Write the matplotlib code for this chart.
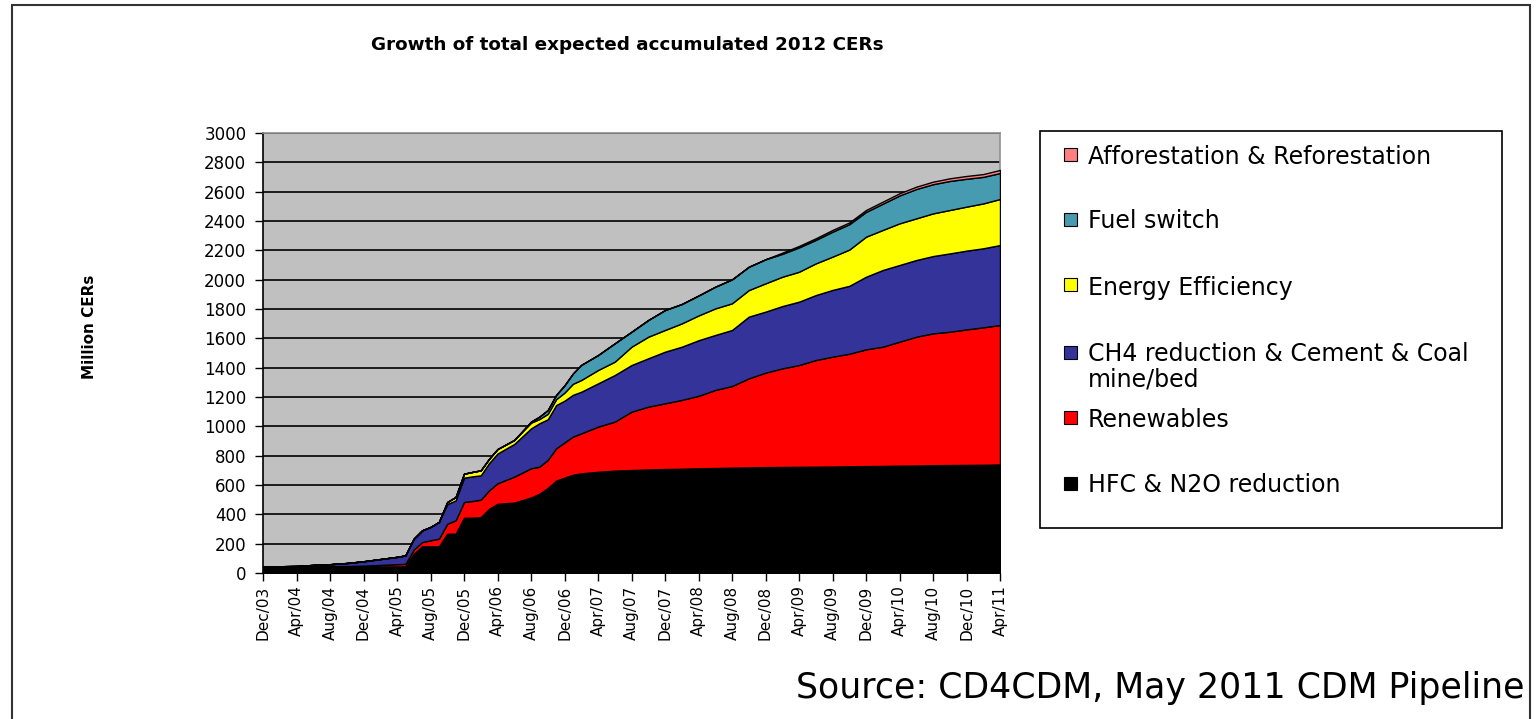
import matplotlib
matplotlib.use("Agg")
import matplotlib.pyplot as plt
from matplotlib.patches import Rectangle
import numpy as np

# month offsets from Dec/03
months = [0, 2, 4, 6, 8, 10, 12, 14, 16, 17, 18, 19, 20, 21, 22, 23, 24, 25, 26, 27, 28,
          30, 32, 33, 34, 35, 36, 37, 38, 40, 42, 44, 46, 48, 50, 52, 54, 56, 58, 60,
          62, 64, 66, 68, 70, 72, 74, 76, 78, 80, 82, 84, 86, 88]

hfc = [45, 45, 45, 45, 45, 45, 45, 45, 45, 45, 132, 182, 182, 182, 268, 268, 377, 377, 381, 438, 472,
       480, 515, 540, 580, 630, 650, 670, 680, 690, 698, 702, 706, 709, 711, 714, 716, 718, 720, 722,
       723, 724, 725, 726, 728, 729, 730, 732, 733, 735, 736, 737, 738, 740]
renew = [0, 0, 0, 1, 1, 2, 5, 10, 15, 17, 28, 29, 41, 52, 68, 91, 107, 114, 119, 126, 140,
         177, 199, 185, 191, 220, 240, 260, 272, 308, 334, 398, 428, 448, 469, 494, 532, 557, 607, 644,
         672, 694, 727, 749, 767, 796, 813, 845, 878, 899, 909, 924, 937, 951]
ch4 = [0, 1, 3, 9, 14, 21, 30, 40, 50, 58, 74, 80, 91, 114, 134, 136, 166, 168, 166, 186, 203,
       223, 272, 296, 277, 295, 285, 285, 284, 295, 318, 318, 330, 352, 363, 379, 375, 382, 421, 416,
       425, 432, 443, 455, 463, 495, 523, 523, 523, 527, 534, 537, 539, 545]
ee = [0, 0, 0, 0, 0, 0, 0, 0, 0, 0, 0, 0, 0, 0, 14, 23, 27, 30, 34, 29, 30,
      27, 39, 29, 37, 40, 55, 75, 80, 91, 91, 125, 147, 148, 159, 169, 181, 182, 181, 193,
      200, 204, 216, 227, 247, 273, 273, 284, 284, 291, 296, 300, 306, 314]
fuel = [0, 0, 0, 0, 0, 0, 0, 0, 0, 0, 0, 0, 0, 0, 0, 0, 0, 0, 0, 0, 0,
        0, 7, 16, 26, 29, 50, 70, 103, 102, 125, 102, 114, 136, 132, 136, 148, 163, 159, 164,
        156, 166, 160, 170, 173, 169, 179, 190, 200, 199, 198, 190, 181, 177]
afr = [0, 0, 0, 0, 0, 0, 0, 0, 0, 0, 0, 0, 0, 0, 0, 0, 0, 0, 0, 0, 0,
       0, 0, 0, 0, 0, 0, 0, 0, 0, 0, 0, 0, 0, 0, 0, 0, 0, 0, 0,
       8, 10, 11, 12, 12, 13, 14, 15, 16, 17, 18, 19, 19, 21]

series_names = ["HFC & N2O reduction", "Renewables",
                "CH4 reduction & Cement & Coal\nmine/bed", "Energy Efficiency",
                "Fuel switch", "Afforestation & Reforestation"]
colors = ["#000000", "#FF0000", "#333399", "#FFFF00", "#469BB0", "#FF8080"]

tick_pos = list(range(0, 89, 4))
tick_labels = ["Dec/03", "Apr/04", "Aug/04", "Dec/04", "Apr/05", "Aug/05", "Dec/05",
               "Apr/06", "Aug/06", "Dec/06", "Apr/07", "Aug/07", "Dec/07", "Apr/08",
               "Aug/08", "Dec/08", "Apr/09", "Aug/09", "Dec/09", "Apr/10", "Aug/10",
               "Dec/10", "Apr/11"]
yticks = list(range(0, 3001, 200))

W, H = 1536, 719
fig = plt.figure(figsize=(W / 100, H / 100), dpi=100)
fig.patch.set_facecolor("white")

ax = fig.add_axes([263 / W, 1 - 573 / H, 737 / W, 440 / H])
ax.set_facecolor("#C0C0C0")
ax.stackplot(months, hfc, renew, ch4, ee, fuel, afr, colors=colors,
             edgecolor="black", linewidth=1.0, zorder=3)
ax.set_xlim(0, 88)
ax.set_ylim(0, 3000)
ax.set_yticks(yticks)
ax.set_yticklabels([str(v) for v in yticks], fontsize=12)
ax.set_xticks(tick_pos)
ax.set_xticklabels(tick_labels, rotation=90, fontsize=11)
ax.yaxis.grid(True, color="black", linewidth=1.2)
ax.set_axisbelow(True)
ax.tick_params(axis="both", direction="out", length=6, width=1, color="black")
ax.tick_params(axis="y", pad=6)
ax.tick_params(axis="x", pad=3)
for s in ["top", "right"]:
    ax.spines[s].set_color("#909090")
    ax.spines[s].set_linewidth(1.2)
for s in ["left", "bottom"]:
    ax.spines[s].set_color("black")
    ax.spines[s].set_linewidth(1.2)
ax.set_ylabel("Million CERs", fontsize=11, fontweight="bold", labelpad=0)
ax.yaxis.set_label_coords((97 - 263) / 737, 0.56)

fig.text(627 / W, 1 - 45 / H, "Growth of total expected accumulated 2012 CERs",
         ha="center", va="center", fontsize=13.2, fontweight="bold")

# legend box (drawn manually to match the original spacing)
fig.add_artist(Rectangle((1040 / W, 1 - 528 / H), 462 / W, 397 / H,
                         transform=fig.transFigure, facecolor="white",
                         edgecolor="black", linewidth=1.2))
legend_y = [483, 417, 352, 285, 219, 154]  # first-line centre, pixels from top
for name, col, yp in zip(series_names, colors, legend_y):
    fig.add_artist(Rectangle((1064 / W, 1 - (yp + 6.5) / H), 13 / W, 13 / H,
                             transform=fig.transFigure, facecolor=col,
                             edgecolor="black", linewidth=0.8))
    lines = name.split("\n")
    for k, ln in enumerate(lines):
        fig.text(1088 / W, 1 - (yp + 25 * k) / H, ln, ha="left", va="center_baseline",
                 fontsize=17)

fig.text(1525 / W, 1 - 688 / H, "Source: CD4CDM, May 2011 CDM Pipeline",
         ha="right", va="center", fontsize=25)

# outer frame
fig.add_artist(Rectangle((12 / W, -0.05), 1518 / W, 1.05 - 5 / H,
                         transform=fig.transFigure, facecolor="none",
                         edgecolor="#333333", linewidth=1.5))

fig.savefig("out.png", dpi=100)
